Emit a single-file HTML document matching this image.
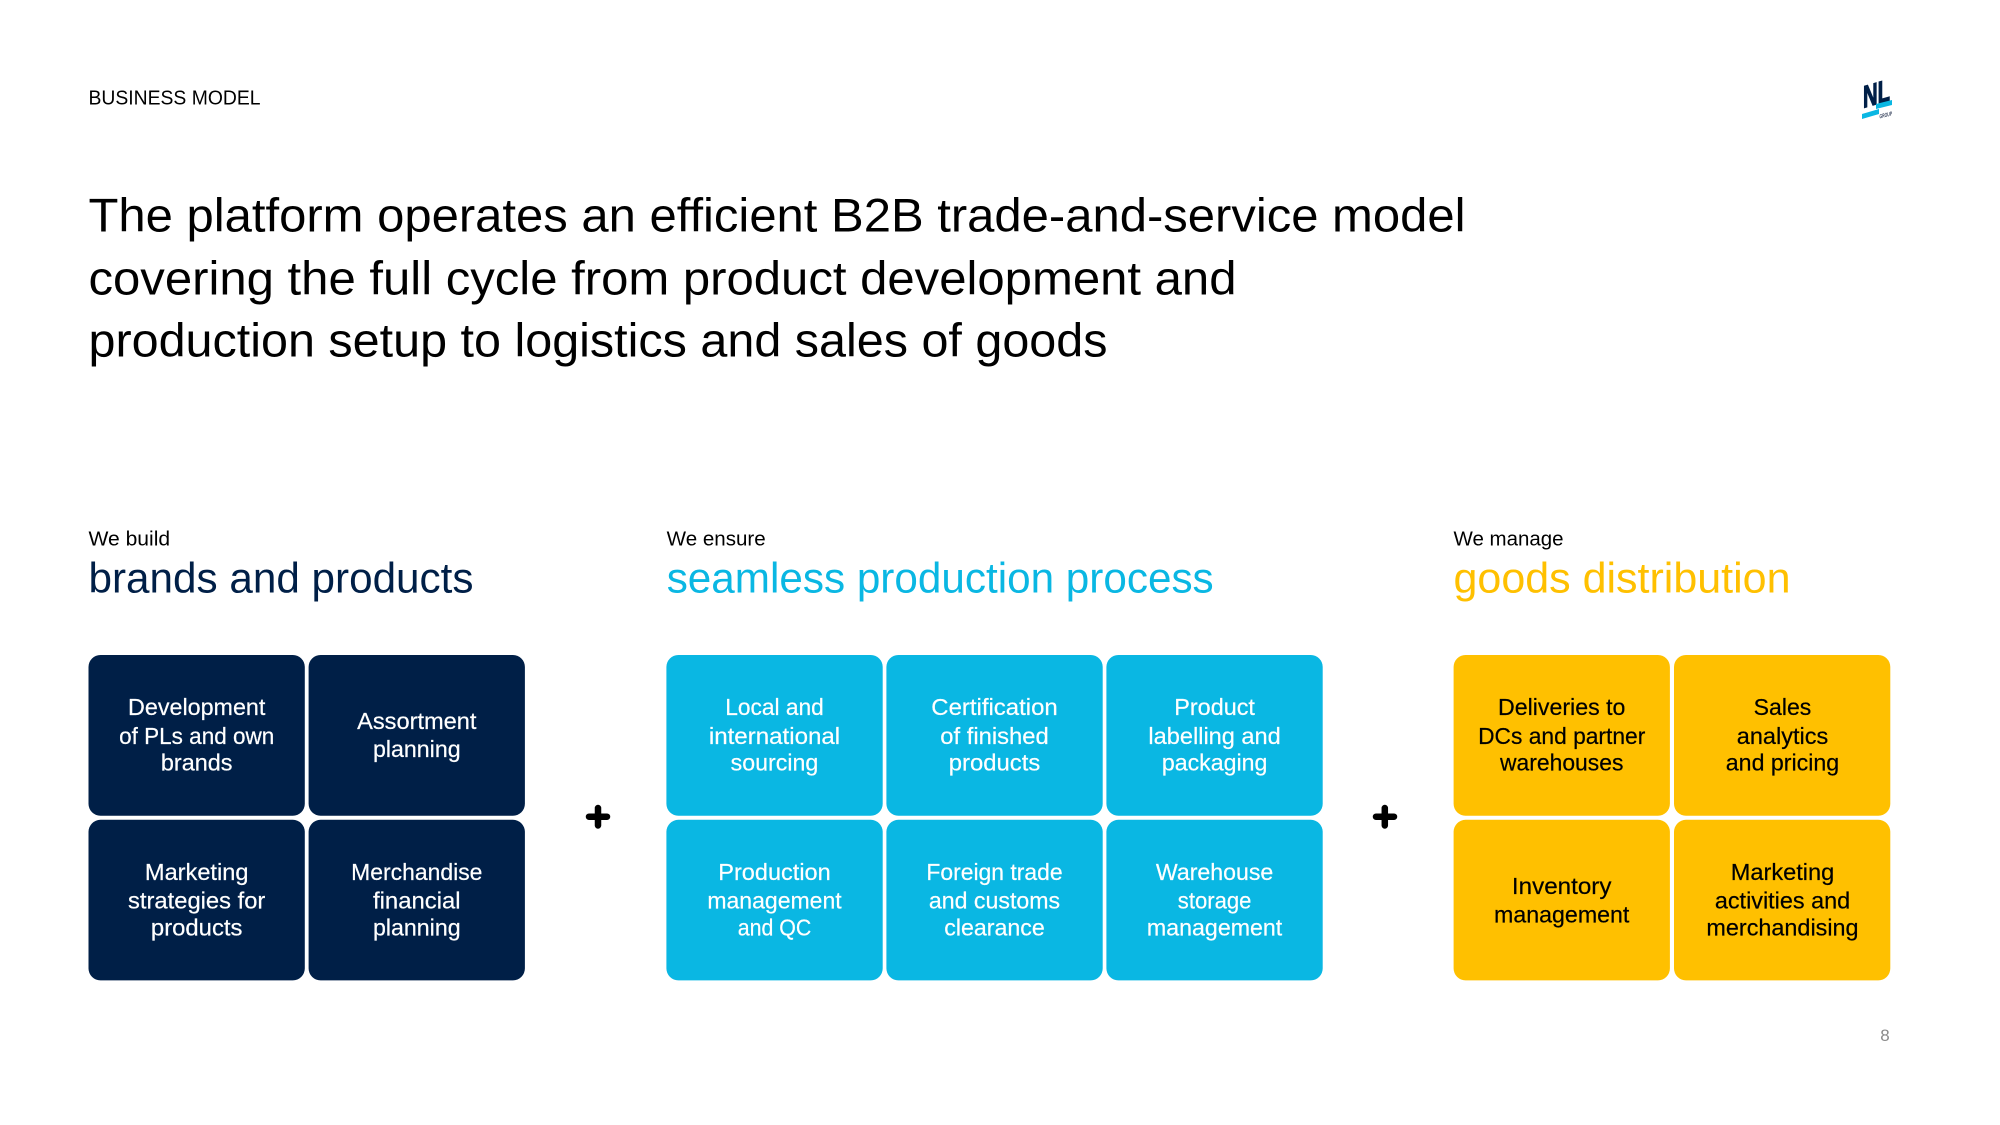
<!DOCTYPE html>
<html lang="en"><head><meta charset="utf-8"><title>Business Model</title>
<style>
html,body{margin:0;padding:0;background:#fff;width:2000px;height:1125px;overflow:hidden}
svg{display:block}
text{font-family:"Liberation Sans",sans-serif}
.b text{font-size:23px;text-anchor:middle}
.w{fill:#fff;stroke:#fff;stroke-width:.2}.k{fill:#000;stroke:#000;stroke-width:.2}
</style></head><body>
<svg xmlns="http://www.w3.org/2000/svg" width="2000" height="1125" viewBox="0 0 2000 1125">
<rect width="2000" height="1125" fill="#fff"/>
<text x="88.5" y="104.7" font-size="20" fill="#000" textLength="172" lengthAdjust="spacingAndGlyphs">BUSINESS MODEL</text>
<g font-size="47" fill="#000">
<text x="88.5" y="231.7" textLength="1377" lengthAdjust="spacingAndGlyphs">The platform operates an efficient B2B trade-and-service model</text>
<text x="88.5" y="294.3" textLength="1148" lengthAdjust="spacingAndGlyphs">covering the full cycle from product development and</text>
<text x="88.5" y="356.5" textLength="1019" lengthAdjust="spacingAndGlyphs">production setup to logistics and sales of goods</text>
</g>
<!-- logo -->
<g>
<text transform="translate(1863 108) skewY(-16)" font-size="31" font-weight="bold" fill="#001f47" stroke="#001f47" stroke-width="1.2" textLength="27" lengthAdjust="spacingAndGlyphs">NL</text>
<polygon points="1862,114 1879,109 1879,114 1862,119" fill="#0ab7e3"/>
<polygon points="1876,104 1892,100 1892,105 1876,109" fill="#0ab7e3"/>
<text transform="translate(1879.5 118.5) skewY(-14)" font-size="6" font-weight="bold" fill="#3a4660" textLength="12.5" lengthAdjust="spacingAndGlyphs">GROUP</text>
</g>
<!-- headers -->
<g font-size="20" fill="#000">
<text x="88.5" y="545.7" textLength="81.6" lengthAdjust="spacingAndGlyphs">We build</text>
<text x="666.7" y="545.7" textLength="99" lengthAdjust="spacingAndGlyphs">We ensure</text>
<text x="1453.5" y="545.7" textLength="110" lengthAdjust="spacingAndGlyphs">We manage</text>
</g>
<g font-size="43">
<text x="88.5" y="592.7" fill="#001f47" textLength="385" lengthAdjust="spacingAndGlyphs">brands and products</text>
<text x="666.7" y="592.7" fill="#0ab7e3" textLength="547" lengthAdjust="spacingAndGlyphs">seamless production process</text>
<text x="1453.5" y="592.7" fill="#ffc000" textLength="337" lengthAdjust="spacingAndGlyphs">goods distribution</text>
</g>
<!-- boxes -->
<g fill="#001f47">
<rect x="88.5" y="655" width="216.3" height="160.8" rx="12"/><rect x="308.6" y="655" width="216.3" height="160.8" rx="12"/>
<rect x="88.5" y="819.8" width="216.3" height="160.6" rx="12"/><rect x="308.6" y="819.8" width="216.3" height="160.6" rx="12"/>
</g>
<g fill="#0ab7e3">
<rect x="666.4" y="655" width="216.3" height="160.8" rx="12"/><rect x="886.4" y="655" width="216.3" height="160.8" rx="12"/><rect x="1106.4" y="655" width="216.3" height="160.8" rx="12"/>
<rect x="666.4" y="819.8" width="216.3" height="160.6" rx="12"/><rect x="886.4" y="819.8" width="216.3" height="160.6" rx="12"/><rect x="1106.4" y="819.8" width="216.3" height="160.6" rx="12"/>
</g>
<g fill="#ffc000">
<rect x="1453.6" y="655" width="216.3" height="160.8" rx="12"/><rect x="1674" y="655" width="216.3" height="160.8" rx="12"/>
<rect x="1453.6" y="819.8" width="216.3" height="160.6" rx="12"/><rect x="1674" y="819.8" width="216.3" height="160.6" rx="12"/>
</g>
<!-- plus -->
<g stroke="#000" stroke-width="6.5" stroke-linecap="round">
<path d="M598 808V825.5M589 816.7H607"/>
<path d="M1384.8 808V825.5M1376 816.7H1394"/>
</g>
<!-- box labels -->
<g class="b">
<g class="w">
<text x="196.7" y="715" textLength="137.3" lengthAdjust="spacingAndGlyphs">Development</text>
<text x="196.7" y="744" textLength="155.2" lengthAdjust="spacingAndGlyphs">of PLs and own</text>
<text x="196.7" y="770.7" textLength="71.6" lengthAdjust="spacingAndGlyphs">brands</text>
<text x="416.8" y="729" textLength="119.4" lengthAdjust="spacingAndGlyphs">Assortment</text>
<text x="416.8" y="757" textLength="87.6" lengthAdjust="spacingAndGlyphs">planning</text>
<text x="196.7" y="880" textLength="103.5" lengthAdjust="spacingAndGlyphs">Marketing</text>
<text x="196.7" y="908.7" textLength="137.3" lengthAdjust="spacingAndGlyphs">strategies for</text>
<text x="196.7" y="935.5" textLength="91.5" lengthAdjust="spacingAndGlyphs">products</text>
<text x="416.8" y="880" textLength="131.3" lengthAdjust="spacingAndGlyphs">Merchandise</text>
<text x="416.8" y="908.7" textLength="87.6" lengthAdjust="spacingAndGlyphs">financial</text>
<text x="416.8" y="935.5" textLength="87.6" lengthAdjust="spacingAndGlyphs">planning</text>

<text x="774.5" y="715" textLength="98.5" lengthAdjust="spacingAndGlyphs">Local and</text>
<text x="774.5" y="744" textLength="131.3" lengthAdjust="spacingAndGlyphs">international</text>
<text x="774.5" y="770.7" textLength="87.6" lengthAdjust="spacingAndGlyphs">sourcing</text>
<text x="994.5" y="715" textLength="126.4" lengthAdjust="spacingAndGlyphs">Certification</text>
<text x="994.5" y="744" textLength="108.5" lengthAdjust="spacingAndGlyphs">of finished</text>
<text x="994.5" y="770.7" textLength="91.5" lengthAdjust="spacingAndGlyphs">products</text>
<text x="1214.6" y="715" textLength="80.6" lengthAdjust="spacingAndGlyphs">Product</text>
<text x="1214.6" y="744" textLength="132.3" lengthAdjust="spacingAndGlyphs">labelling and</text>
<text x="1214.6" y="770.7" textLength="105.5" lengthAdjust="spacingAndGlyphs">packaging</text>
<text x="774.5" y="880" textLength="112.4" lengthAdjust="spacingAndGlyphs">Production</text>
<text x="774.5" y="908.7" textLength="134.3" lengthAdjust="spacingAndGlyphs">management</text>
<text x="774.5" y="935.5" textLength="73.6" lengthAdjust="spacingAndGlyphs">and QC</text>
<text x="994.5" y="880" textLength="136.3" lengthAdjust="spacingAndGlyphs">Foreign trade</text>
<text x="994.5" y="908.7" textLength="131.3" lengthAdjust="spacingAndGlyphs">and customs</text>
<text x="994.5" y="935.5" textLength="100.5" lengthAdjust="spacingAndGlyphs">clearance</text>
<text x="1214.6" y="880" textLength="117.4" lengthAdjust="spacingAndGlyphs">Warehouse</text>
<text x="1214.6" y="908.7" textLength="73.6" lengthAdjust="spacingAndGlyphs">storage</text>
<text x="1214.6" y="935.5" textLength="135.3" lengthAdjust="spacingAndGlyphs">management</text>
</g>
<g class="k">
<text x="1561.7" y="715" textLength="127.4" lengthAdjust="spacingAndGlyphs">Deliveries to</text>
<text x="1561.7" y="744" textLength="167.2" lengthAdjust="spacingAndGlyphs">DCs and partner</text>
<text x="1561.7" y="770.7" textLength="123.4" lengthAdjust="spacingAndGlyphs">warehouses</text>
<text x="1782.5" y="715" textLength="57.7" lengthAdjust="spacingAndGlyphs">Sales</text>
<text x="1782.5" y="744" textLength="91.5" lengthAdjust="spacingAndGlyphs">analytics</text>
<text x="1782.5" y="770.7" textLength="113.4" lengthAdjust="spacingAndGlyphs">and pricing</text>
<text x="1561.7" y="894" textLength="99.5" lengthAdjust="spacingAndGlyphs">Inventory</text>
<text x="1561.7" y="922.7" textLength="135.3" lengthAdjust="spacingAndGlyphs">management</text>
<text x="1782.5" y="880" textLength="103.5" lengthAdjust="spacingAndGlyphs">Marketing</text>
<text x="1782.5" y="908.7" textLength="135.3" lengthAdjust="spacingAndGlyphs">activities and</text>
<text x="1782.5" y="935.5" textLength="152.2" lengthAdjust="spacingAndGlyphs">merchandising</text>
</g>
</g>
<text x="1885" y="1041" font-size="17" fill="#8a8a8a" text-anchor="middle">8</text>
</svg>
</body></html>
